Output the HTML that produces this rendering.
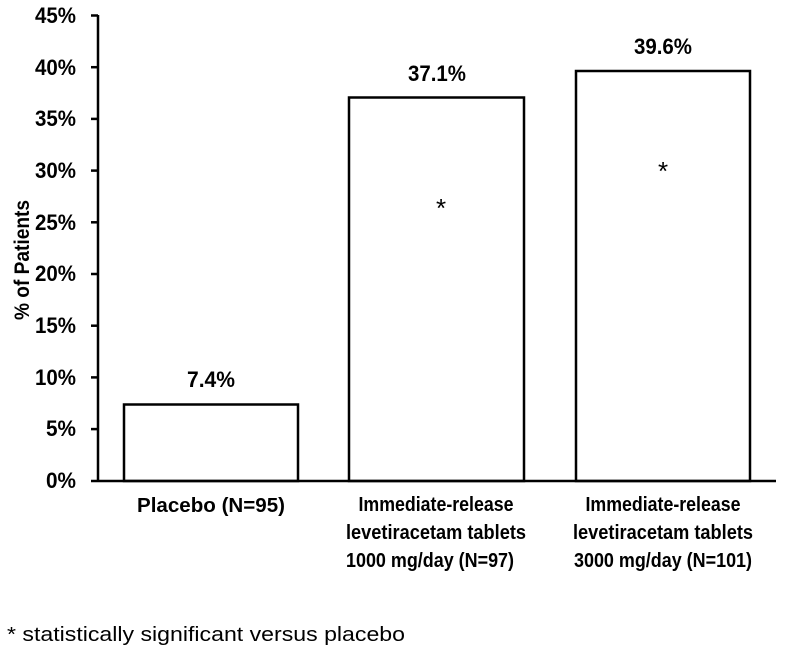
<!DOCTYPE html>
<html><head><meta charset="utf-8"><style>
html,body{margin:0;padding:0;background:#fff;}
svg{display:block;}
text{font-family:"Liberation Sans",Arial,sans-serif;fill:#000;}
.b{font-weight:bold;}
</style></head><body>
<svg width="795" height="664" viewBox="0 0 795 664" xmlns="http://www.w3.org/2000/svg">
<g stroke="#000" stroke-width="2.5" fill="none">
<line x1="98" y1="15" x2="98" y2="481"/>
<line x1="91" y1="481" x2="776" y2="481"/>
<line x1="91" y1="15.5" x2="98" y2="15.5"/>
<line x1="91" y1="67.2" x2="98" y2="67.2"/>
<line x1="91" y1="118.9" x2="98" y2="118.9"/>
<line x1="91" y1="170.6" x2="98" y2="170.6"/>
<line x1="91" y1="222.3" x2="98" y2="222.3"/>
<line x1="91" y1="274" x2="98" y2="274"/>
<line x1="91" y1="325.7" x2="98" y2="325.7"/>
<line x1="91" y1="377.4" x2="98" y2="377.4"/>
<line x1="91" y1="429.1" x2="98" y2="429.1"/>
<rect x="124" y="404.5" width="174" height="76.5"/>
<rect x="349" y="97.5" width="175" height="383.5"/>
<rect x="576" y="71" width="174" height="410"/>
</g>
<g class="b" font-size="22" text-anchor="end">
<text x="76" y="23" textLength="41" lengthAdjust="spacingAndGlyphs">45%</text>
<text x="76" y="75" textLength="41" lengthAdjust="spacingAndGlyphs">40%</text>
<text x="76" y="126" textLength="41" lengthAdjust="spacingAndGlyphs">35%</text>
<text x="76" y="178" textLength="41" lengthAdjust="spacingAndGlyphs">30%</text>
<text x="76" y="230" textLength="41" lengthAdjust="spacingAndGlyphs">25%</text>
<text x="76" y="281" textLength="41" lengthAdjust="spacingAndGlyphs">20%</text>
<text x="76" y="333" textLength="41" lengthAdjust="spacingAndGlyphs">15%</text>
<text x="76" y="385" textLength="41" lengthAdjust="spacingAndGlyphs">10%</text>
<text x="76" y="436" textLength="30" lengthAdjust="spacingAndGlyphs">5%</text>
<text x="76" y="488" textLength="30" lengthAdjust="spacingAndGlyphs">0%</text>
</g>
<text class="b" font-size="21" text-anchor="middle" transform="translate(29,260) rotate(-90)" textLength="120" lengthAdjust="spacingAndGlyphs">% of Patients</text>
<g class="b" font-size="22" text-anchor="middle">
<text x="211" y="387" textLength="48" lengthAdjust="spacingAndGlyphs">7.4%</text>
<text x="437" y="81" textLength="58" lengthAdjust="spacingAndGlyphs">37.1%</text>
<text x="663" y="54" textLength="58" lengthAdjust="spacingAndGlyphs">39.6%</text>
</g>
<g font-size="26" text-anchor="middle">
<text x="441" y="217">*</text>
<text x="663" y="180">*</text>
</g>
<g class="b" font-size="20" text-anchor="middle">
<text x="211" y="512" textLength="148" lengthAdjust="spacingAndGlyphs">Placebo (N=95)</text>
<text x="436" y="511" textLength="155" lengthAdjust="spacingAndGlyphs">Immediate-release</text>
<text x="436" y="539" textLength="180" lengthAdjust="spacingAndGlyphs">levetiracetam tablets</text>
<text x="430" y="567" textLength="168" lengthAdjust="spacingAndGlyphs">1000 mg/day (N=97)</text>
<text x="663" y="511" textLength="155" lengthAdjust="spacingAndGlyphs">Immediate-release</text>
<text x="663" y="539" textLength="180" lengthAdjust="spacingAndGlyphs">levetiracetam tablets</text>
<text x="663" y="567" textLength="178" lengthAdjust="spacingAndGlyphs">3000 mg/day (N=101)</text>
</g>
<text x="7" y="641" font-size="20" textLength="398" lengthAdjust="spacingAndGlyphs">* statistically significant versus placebo</text>
</svg>
</body></html>
